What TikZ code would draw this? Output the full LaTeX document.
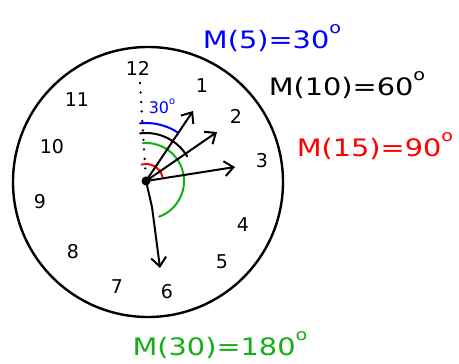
\documentclass[tikz,border=0pt]{standalone}
\usepackage{fontspec}
\setmainfont{DejaVu Sans}
\usetikzlibrary{arrows.meta}
\definecolor{vert}{RGB}{20,175,20}
\tikzset{
  aiguille/.style={line width=2pt,-{Straight Barb[length=9pt,width=15pt,line width=2pt]}},
  chiffre/.style={font=\fontsize{19}{19}\selectfont},
  mesure/.style={font=\fontsize{24}{24}\selectfont,xscale=1.2}
}
\newcommand{\degre}{\raisebox{1.1ex}{\fontsize{16}{16}\selectfont o}}
\begin{document}
\begin{tikzpicture}[x=1pt,y=1pt,line cap=round,line join=round]
  \useasboundingbox (0,0) rectangle (459,364);
  % Cadran
  \draw[line width=2.4pt] (148,182) circle (135);
  \coordinate (O) at (146,183);
  % Chiffres
  \node[chiffre] (n12) at (138,296) {12};
  \node[chiffre] (n1) at (202,278) {1};
  \node[chiffre] (n2) at (236,248) {2};
  \node[chiffre] (n3) at (262,203) {3};
  \node[chiffre] (n4) at (243,139) {4};
  \node[chiffre] (n5) at (222,102) {5};
  \node[chiffre] (n6) at (167,72) {6};
  \node[chiffre] (n7) at (117,77) {7};
  \node[chiffre] (n8) at (73,112) {8};
  \node[chiffre] (n9) at (40,162) {9};
  \node[chiffre] (n10) at (52,217) {10};
  \node[chiffre] (n11) at (77,264) {11};
  % Pointilles vers midi
  \coordinate (haut) at (140,281);
  \draw[line width=2.6pt,dash pattern=on 0pt off 9.5pt] (haut) -- (O);
  % Arcs d'angle
  \draw[blue,line width=2pt] (O) ++(96:58) arc (96:57:58);
  \draw[line width=2pt] (O) ++(97:48) arc (97:31:48);
  \draw[vert,line width=2pt] (O) ++(95:38) arc (95:-70:38);
  \draw[red,line width=2pt] (O) ++(105:17) arc (105:15:17);
  \node[blue,font=\fontsize{16}{16}\selectfont,inner sep=1pt] (trente) at (162,258) {30\raisebox{1ex}{\fontsize{10}{10}\selectfont o}};
  % Aiguilles
  \coordinate (h1) at (193,253);
  \coordinate (h2) at (217,232);
  \coordinate (h3) at (235,197);
  \coordinate (coude) at (152,157);
  \coordinate (h6) at (160,96);
  \draw[aiguille] (O) -- (h1);
  \draw[aiguille] (O) -- (h2);
  \draw[aiguille] (O) -- (h3);
  \draw[aiguille] (O) -- (coude) -- (h6);
  \fill (O) circle (4.5);
  % Mesures
  \node[mesure,blue] (m5) at (272,326) {M(5)=30\degre};
  \node[mesure] (m10) at (347,279) {M(10)=60\degre};
  \node[mesure,red] (m15) at (375,218) {M(15)=90\degre};
  \node[mesure,vert] (m30) at (220,19) {M(30)=180\degre};
\end{tikzpicture}
\end{document}
